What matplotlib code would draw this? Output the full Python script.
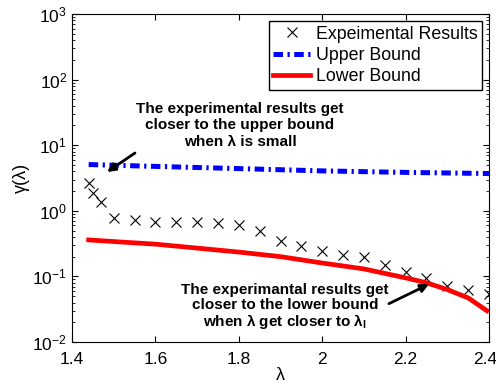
import numpy as np
import matplotlib
matplotlib.use("Agg")
import matplotlib.pyplot as plt
from matplotlib.transforms import ScaledTranslation

# Data
exp_lam = [1.44, 1.45, 1.47, 1.50, 1.55, 1.60, 1.65, 1.70, 1.75, 1.80, 1.85,
           1.90, 1.95, 2.00, 2.05, 2.10, 2.15, 2.20, 2.25, 2.30, 2.35, 2.40]
exp_gamma = [2.7, 1.9, 1.37, 0.77, 0.73, 0.68, 0.68, 0.67, 0.65, 0.61, 0.50,
             0.35, 0.29, 0.24, 0.21, 0.195, 0.15, 0.115, 0.093, 0.072, 0.063, 0.054]

upper_lam = [1.44, 1.6, 1.8, 2.0, 2.2, 2.4]
upper_gamma = [5.07, 4.75, 4.4, 4.06, 3.85, 3.7]

lower_lam = [1.44, 1.5, 1.6, 1.7, 1.8, 1.9, 2.0, 2.1, 2.2, 2.25, 2.3, 2.35, 2.395]
lower_gamma = [0.36, 0.34, 0.31, 0.27, 0.235, 0.20, 0.16, 0.13, 0.095, 0.08, 0.063, 0.047, 0.030]

xticks = [1.4, 1.6, 1.8, 2.0, 2.2, 2.4]
xticklabels = ["1.4", "1.6", "1.8", "2", "2.2", "2.4"]

plt.rcParams['font.family'] = ['Liberation Sans', 'DejaVu Sans']
plt.rcParams['mathtext.fontset'] = 'custom'
plt.rcParams['mathtext.rm'] = 'Liberation Sans'
plt.rcParams['mathtext.bf'] = 'Liberation Sans:bold'

fig = plt.figure(figsize=(4.96, 3.85), dpi=100)
ax = fig.add_axes([72/496, 1-342/385, (489-72)/496, (342-14)/385])

ax.plot(exp_lam, exp_gamma, 'x', color='black', markersize=6.5, markeredgewidth=0.8,
        label='Expeimental Results')
ax.plot(upper_lam, upper_gamma, color=(0, 0, 1), linewidth=3.6,
        linestyle=(0, (1.9, 0.9, 0.45, 0.9)), label='Upper Bound')
ax.plot(lower_lam, lower_gamma, color=(1, 0, 0), linewidth=3.4, label='Lower Bound')

ax.set_yscale('log')
ax.set_xlim(1.4, 2.4)
ax.set_ylim(1e-2, 1e3)
ax.set_xticks(xticks)
ax.set_xticklabels(xticklabels)
ax.tick_params(which='both', direction='in', top=True, right=True, labelsize=12.5)
ax.tick_params(axis='x', which='major', pad=7)
ax.tick_params(which='major', length=4)
ax.tick_params(which='minor', length=2)
ax.set_xlabel('λ', fontsize=13, labelpad=0)
ax.set_ylabel('γ(λ)', fontsize=13, labelpad=2)

# keep the last tick label inside the canvas (as in the reference)
last = ax.get_xticklabels()[-1]
last.set_transform(last.get_transform() + ScaledTranslation(-4/100, 0, fig.dpi_scale_trans))

leg = ax.legend(loc='upper right', fontsize=12.8, fancybox=False, framealpha=1,
                edgecolor='black', borderaxespad=0.4, handlelength=2.1,
                labelspacing=0.25, borderpad=0.25, handletextpad=0.3)
leg.get_frame().set_linewidth(1.0)

ax.text(1.803, 20, 'The experimental results get\ncloser to the upper bound\nwhen λ is small',
        ha='center', va='center', fontsize=11, fontweight='bold', linespacing=1.22)
ax.annotate('', xy=(1.484, 3.9), xytext=(1.551, 7.6),
            arrowprops=dict(arrowstyle='-|>', color='black', lw=2, mutation_scale=12,
                            shrinkA=0, shrinkB=0))

ax.text(1.911, 0.034, 'The experimantal results get\ncloser to the lower bound\nwhen λ get closer to λ$_\\mathbf{l}$',
        ha='center', va='center', fontsize=11, fontweight='bold', linespacing=1.05)
ax.annotate('', xy=(2.256, 0.076), xytext=(2.160, 0.0384),
            arrowprops=dict(arrowstyle='-|>', color='black', lw=2, mutation_scale=12,
                            shrinkA=0, shrinkB=0))

fig.savefig('out.png', dpi=100)
